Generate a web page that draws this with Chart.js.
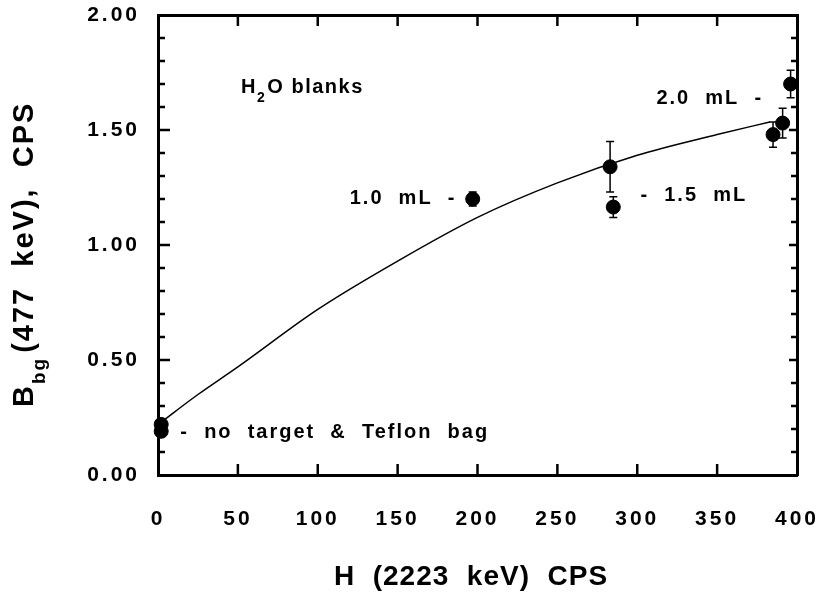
<!DOCTYPE html>
<html>
<head>
<meta charset="utf-8">
<script src="https://cdn.jsdelivr.net/npm/chart.js@4"></script>
<style>
  body { margin: 0; background: #fff; }
  #wrap { width: 823px; height: 593px; position: relative; }
</style>
</head>
<body>
<div id="wrap"><canvas id="bgChart"></canvas></div>
<script>
// measured blanks (H 2223 keV rate vs B_bg 477 keV rate)
const hCps = [2, 2, 197, 283, 285, 385, 391, 396];
const bgCps = [0.22, 0.19, 1.20, 1.34, 1.165, 1.48, 1.53, 1.70];
const bgErr = [0, 0, 0.03, 0.11, 0.045, 0.055, 0.065, 0.06];

// fitted curve
const fitH = [2, 25, 50, 100, 150, 200, 250, 300, 350, 383];
const fitBg = [0.23, 0.35, 0.47, 0.72, 0.93, 1.12, 1.27, 1.39, 1.48, 1.535];

const xTickValues = [0, 50, 100, 150, 200, 250, 300, 350, 400];
const yTickValues = [0, 0.5, 1.0, 1.5, 2.0];

// notes beside the points
const noteText = ['1.0  mL  -', '-  1.5  mL', '2.0  mL  -', '-  no  target  &  Teflon  bag'];
const noteH = [120, 302, 312, 14];
const noteBg = [1.204, 1.217, 1.639, 0.187];

const FONT = "'Liberation Sans', Arial, Helvetica, sans-serif";

function tickFont() {
    return { family: FONT, size: 21, weight: 'bold' };
}

function noPad(s) {
    s.paddingLeft = 0; s.paddingRight = 0;
    s.paddingTop = 0; s.paddingBottom = 0;
}

const decor = {
    id: 'decor',
    beforeUpdate(chart) { chart.ctx.letterSpacing = '3px'; },
    beforeDraw(chart) { chart.ctx.letterSpacing = '3px'; },
    afterDatasetsDraw(chart) {
        const ctx = chart.ctx;
        const xs = chart.scales.x, ys = chart.scales.y;
        const a = chart.chartArea;
        ctx.save();
        ctx.strokeStyle = '#000';

        // error bars
        ctx.lineWidth = 1.5;
        hCps.forEach((h, i) => {
            const e = bgErr[i];
            if (!e) return;
            const px = xs.getPixelForValue(h);
            const top = ys.getPixelForValue(bgCps[i] + e);
            const bot = ys.getPixelForValue(bgCps[i] - e);
            ctx.beginPath();
            ctx.moveTo(px, top); ctx.lineTo(px, bot);
            ctx.moveTo(px - 4, top); ctx.lineTo(px + 4, top);
            ctx.moveTo(px - 4, bot); ctx.lineTo(px + 4, bot);
            ctx.stroke();
        });

        // inward ticks on all four sides
        ctx.lineWidth = 2.5;
        ctx.beginPath();
        for (let k = 1; k < 20; k++) {
            const py = ys.getPixelForValue(k / 10);
            const len = k % 5 === 0 ? 12 : 7;
            ctx.moveTo(a.left, py); ctx.lineTo(a.left + len, py);
            ctx.moveTo(a.right, py); ctx.lineTo(a.right - (k % 5 === 0 ? 8 : 6), py);
        }
        xTickValues.forEach(v => {
            if (v <= 0 || v >= 400) return;
            const px = xs.getPixelForValue(v);
            ctx.moveTo(px, a.bottom); ctx.lineTo(px, a.bottom - 11);
            ctx.moveTo(px, a.top); ctx.lineTo(px, a.top + 11);
        });
        ctx.stroke();
        ctx.restore();
    },
    afterDraw(chart) {
        const ctx = chart.ctx;
        const xs = chart.scales.x, ys = chart.scales.y;
        ctx.save();
        ctx.fillStyle = '#000';
        ctx.textBaseline = 'middle';
        ctx.textAlign = 'left';

        // notes
        ctx.font = 'bold 20px ' + FONT;
        ctx.letterSpacing = '2px';
        noteText.forEach((t, i) => {
            ctx.fillText(t, xs.getPixelForValue(noteH[i]), ys.getPixelForValue(noteBg[i]));
        });

        // H2O blanks
        ctx.letterSpacing = '1.5px';
        let hx = xs.getPixelForValue(52);
        const hy = ys.getPixelForValue(1.683);
        ctx.fillText('H', hx, hy);
        hx += ctx.measureText('H').width;
        ctx.font = 'bold 14px ' + FONT;
        ctx.fillText('2', hx, hy + 10);
        hx += ctx.measureText('2').width + 1;
        ctx.font = 'bold 20px ' + FONT;
        ctx.fillText('O blanks', hx, hy);

        // x axis title
        ctx.textBaseline = 'alphabetic';
        ctx.textAlign = 'center';
        ctx.font = 'bold 28px ' + FONT;
        ctx.letterSpacing = '1px';
        ctx.fillText('H  (2223  keV)  CPS', 471, 585);

        // y axis title, rotated
        ctx.translate(33, 407);
        ctx.rotate(-Math.PI / 2);
        ctx.textAlign = 'left';
        ctx.font = 'bold 29px ' + FONT;
        ctx.letterSpacing = '2px';
        let tx = 0;
        ctx.fillText('B', tx, 0);
        tx += ctx.measureText('B').width;
        ctx.font = 'bold 19px ' + FONT;
        ctx.fillText('bg', tx, 12);
        tx += ctx.measureText('bg').width + 4;
        ctx.font = 'bold 29px ' + FONT;
        ctx.fillText('(477  keV),  CPS', tx, 0);
        ctx.restore();
    }
};

const ctx = document.getElementById('bgChart').getContext('2d');
const chart = new Chart(ctx, {
    type: 'scatter',
    data: {
        datasets: [{
            label: 'H2O blanks',
            data: hCps.map((h, i) => ({ x: h, y: bgCps[i] })),
            pointRadius: 7,
            pointHoverRadius: 7,
            backgroundColor: '#000',
            borderColor: '#000',
            clip: false,
            order: 0
        }, {
            label: 'fit',
            data: fitH.map((h, i) => ({ x: h, y: fitBg[i] })),
            showLine: true,
            pointRadius: 0,
            borderColor: '#000',
            borderWidth: 1.5,
            cubicInterpolationMode: 'monotone',
            order: 1
        }]
    },
    options: {
        responsive: true,
        maintainAspectRatio: false,
        animation: false,
        events: [],
        layout: { padding: 0 },
        plugins: {
            legend: { display: false },
            tooltip: { enabled: false }
        },
        scales: {
            x: {
                type: 'linear',
                position: 'bottom',
                min: 0,
                max: 400,
                afterFit(s) { s.height = 118; noPad(s); },
                afterBuildTicks(s) { s.ticks = xTickValues.map(v => ({ value: v })); },
                grid: { display: false, drawTicks: false },
                border: { display: true, color: '#000', width: 3 },
                ticks: {
                    color: '#000',
                    padding: 32,
                    maxRotation: 0,
                    autoSkip: false,
                    font: tickFont(),
                    callback: v => String(v)
                }
            },
            y: {
                type: 'linear',
                position: 'left',
                min: 0,
                max: 2,
                afterFit(s) { s.width = 158; noPad(s); },
                afterBuildTicks(s) { s.ticks = yTickValues.map(v => ({ value: v })); },
                grid: { display: false, drawTicks: false },
                border: { display: true, color: '#000', width: 3 },
                ticks: {
                    color: '#000',
                    padding: 18,
                    autoSkip: false,
                    font: tickFont(),
                    callback: v => v.toFixed(2)
                }
            },
            xTop: {
                type: 'linear',
                position: 'top',
                min: 0,
                max: 400,
                afterFit(s) { s.height = 15; noPad(s); },
                grid: { display: false, drawTicks: false },
                border: { display: true, color: '#000', width: 3 },
                ticks: { display: false }
            },
            yRight: {
                type: 'linear',
                position: 'right',
                min: 0,
                max: 2,
                afterFit(s) { s.width = 26; noPad(s); },
                grid: { display: false, drawTicks: false },
                border: { display: true, color: '#000', width: 3 },
                ticks: { display: false }
            }
        }
    },
    plugins: [decor]
});
</script>
</body>
</html>
